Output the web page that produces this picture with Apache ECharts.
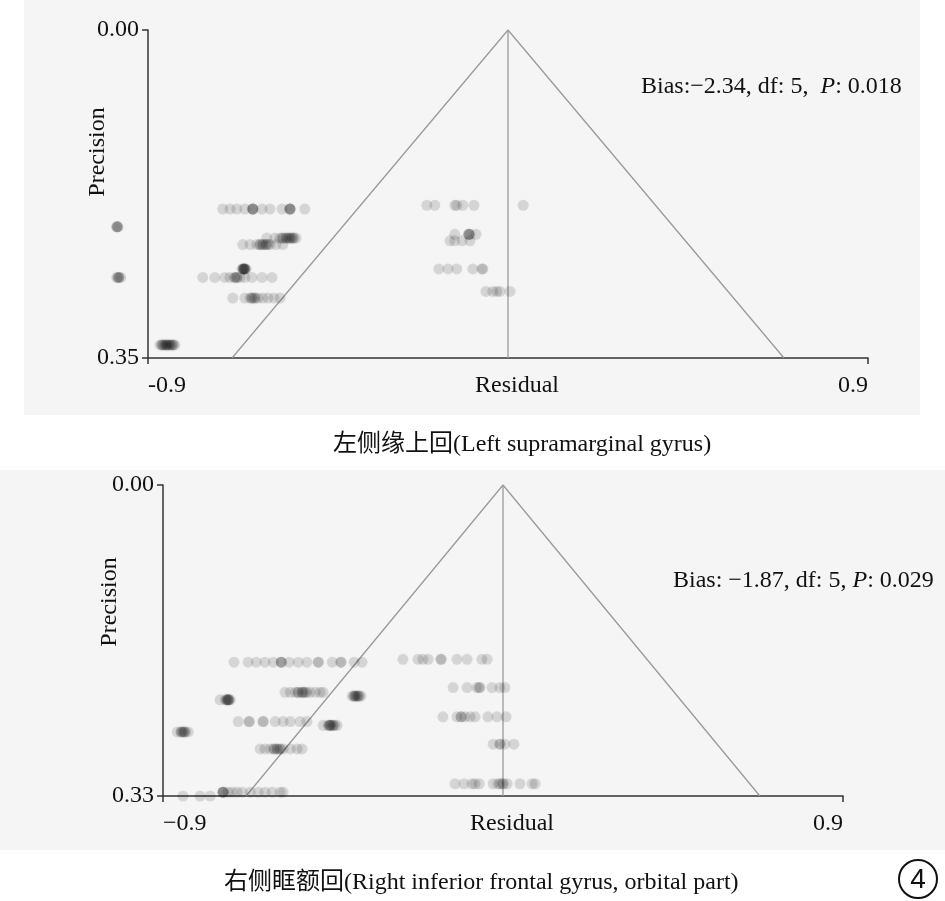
<!DOCTYPE html>
<html>
<head>
<meta charset="utf-8">
<script src="https://cdn.jsdelivr.net/npm/echarts@6/dist/echarts.min.js"></script>
<style>
  html, body { margin: 0; padding: 0; background: #fff; }
  #chart { width: 945px; height: 901px; }
</style>
</head>
<body>
<div id="chart"></div>
<script>
var FONT = '"Liberation Serif", "Times New Roman", "Noto Sans CJK SC", serif';
var FS = 24;

// panel 1: left supramarginal gyrus
var topPrecision = [0.191, 0.210, 0.264, 0.222, 0.229, 0.255, 0.264, 0.286, 0.336,
  0.187, 0.218, 0.225, 0.255, 0.279];
var topResidual = [
  [-0.713, -0.695, -0.678, -0.658, -0.638, -0.638, -0.638, -0.638, -0.615, -0.595, -0.565, -0.545, -0.545, -0.545, -0.545, -0.508],
  [-0.978, -0.978, -0.975, -0.976],
  [-0.978, -0.973, -0.968, -0.973, -0.975],
  [-0.603, -0.583, -0.570, -0.563, -0.563, -0.555, -0.555, -0.550, -0.545, -0.545, -0.540, -0.538, -0.535, -0.530],
  [-0.663, -0.645, -0.628, -0.620, -0.620, -0.613, -0.613, -0.605, -0.605, -0.600, -0.595, -0.580, -0.563],
  [-0.665, -0.662, -0.660, -0.660, -0.658, -0.655, -0.660, -0.662, -0.657],
  [-0.763, -0.733, -0.708, -0.695, -0.683, -0.683, -0.678, -0.678, -0.670, -0.658, -0.640, -0.615, -0.590],
  [-0.688, -0.658, -0.645, -0.640, -0.640, -0.633, -0.633, -0.625, -0.613, -0.600, -0.585, -0.570],
  [-0.870, -0.866, -0.863, -0.863, -0.858, -0.855, -0.855, -0.852, -0.848, -0.848, -0.844, -0.840, -0.840, -0.836, -0.833],
  [-0.203, -0.183, -0.133, -0.128, -0.113, -0.085, 0.038],
  [-0.133, -0.098, -0.098, -0.098, -0.095, -0.080],
  [-0.145, -0.133, -0.115, -0.095],
  [-0.173, -0.150, -0.128, -0.088, -0.065, -0.063],
  [-0.055, -0.038, -0.028, -0.020, 0.005]
];

// panel 2: right inferior frontal gyrus, orbital part
var botPrecision = [0.188, 0.185, 0.220, 0.224, 0.228, 0.215, 0.251, 0.255, 0.262,
  0.246, 0.280, 0.275, 0.326, 0.330, 0.317];
var botResidual = [
  [-0.712, -0.675, -0.653, -0.630, -0.608, -0.587, -0.587, -0.587, -0.566, -0.542, -0.519, -0.489, -0.489, -0.452, -0.429, -0.429, -0.394, -0.373],
  [-0.265, -0.225, -0.212, -0.198, -0.164, -0.164, -0.122, -0.095, -0.056, -0.042],
  [-0.577, -0.563, -0.550, -0.542, -0.542, -0.532, -0.532, -0.528, -0.524, -0.520, -0.511, -0.497, -0.484, -0.476],
  [-0.399, -0.395, -0.392, -0.392, -0.388, -0.384, -0.384, -0.380, -0.376],
  [-0.749, -0.735, -0.732, -0.728, -0.728, -0.725, -0.722, -0.730, -0.726],
  [-0.132, -0.095, -0.069, -0.063, -0.061, -0.029, -0.008, 0.005],
  [-0.701, -0.672, -0.672, -0.635, -0.635, -0.603, -0.582, -0.563, -0.537, -0.519],
  [-0.476, -0.463, -0.460, -0.458, -0.458, -0.455, -0.450, -0.450, -0.445, -0.439],
  [-0.862, -0.852, -0.852, -0.848, -0.844, -0.844, -0.840, -0.833],
  [-0.159, -0.122, -0.111, -0.111, -0.101, -0.087, -0.074, -0.040, -0.016, 0.008],
  [-0.643, -0.630, -0.616, -0.606, -0.606, -0.598, -0.598, -0.590, -0.590, -0.582, -0.563, -0.545, -0.532],
  [-0.026, -0.008, -0.008, 0.005, 0.029],
  [-0.741, -0.741, -0.741, -0.741, -0.728, -0.717, -0.704, -0.690, -0.669, -0.648, -0.630, -0.611, -0.590, -0.582],
  [-0.847, -0.802, -0.775],
  [-0.127, -0.103, -0.082, -0.074, -0.063, -0.026, -0.013, -0.008, 0.000, 0.000, 0.011, 0.045, 0.077, 0.085]
];

// funnel limits at the bottom of each panel
var topFunnel = { maxPrec: 0.35, halfWidth: 0.69 };
var botFunnel = { maxPrec: 0.33, halfWidth: 0.68 };

function toPoints(precision, residual) {
  var pts = [];
  precision.forEach(function(p, i) {
    residual[i].forEach(function(r) {
      pts.push([r, p]);
    });
  });
  return pts;
}

function makeAxes(idx, f, minusSign) {
  var xAxis = {
    gridIndex: idx, type: 'value', min: -0.9, max: 0.9, interval: 0.9,
    name: 'Residual', nameLocation: 'middle', nameGap: 16, nameMoveOverlap: false,
    nameTextStyle: { fontFamily: FONT, fontSize: FS, color: '#111', verticalAlign: 'top', padding: [0, 0, 0, 18] },
    axisLine: { show: true, onZero: false, lineStyle: { color: '#333', width: 1.5 } },
    axisTick: { show: true, customValues: [-0.9, 0.9], length: 6, lineStyle: { color: '#333', width: 1.5 } },
    axisLabel: {
      customValues: [-0.9, 0.9], margin: 16, fontFamily: FONT, fontSize: FS, color: '#111',
      alignMinLabel: 'left', alignMaxLabel: 'right',
      formatter: function(v) { return v < 0 ? minusSign + '0.9' : '0.9'; }
    },
    splitLine: { show: false }
  };
  var yAxis = {
    gridIndex: idx, type: 'value', inverse: true, min: 0, max: f.maxPrec, interval: f.maxPrec,
    axisLine: { show: true, onZero: false, lineStyle: { color: '#333', width: 1.5 } },
    axisTick: { show: true, length: 6, lineStyle: { color: '#333', width: 1.5 } },
    axisLabel: { margin: 9, fontFamily: FONT, fontSize: FS, color: '#111',
      formatter: function(v) { return v.toFixed(2); } },
    splitLine: { show: false }
  };
  return { x: xAxis, y: yAxis };
}

function makeSeries(idx, f, points) {
  var lineStyle = { color: '#9a9a9a', width: 1.3 };
  return [
    {
      type: 'line', xAxisIndex: idx, yAxisIndex: idx, symbol: 'none', silent: true,
      lineStyle: lineStyle, z: 1,
      data: [[-f.halfWidth, f.maxPrec], [0, 0], [f.halfWidth, f.maxPrec]]
    },
    {
      type: 'line', xAxisIndex: idx, yAxisIndex: idx, symbol: 'none', silent: true,
      lineStyle: lineStyle, z: 1,
      data: [[0, 0], [0, f.maxPrec]]
    },
    {
      type: 'scatter', xAxisIndex: idx, yAxisIndex: idx, clip: false,
      symbolSize: 11, z: 3,
      itemStyle: { color: 'rgba(0,0,0,0.15)', shadowBlur: 4, shadowColor: 'rgba(0,0,0,0.15)' },
      data: points
    }
  ];
}

var chart = echarts.init(document.getElementById('chart'));
var a1 = makeAxes(0, topFunnel, '-');
var a2 = makeAxes(1, botFunnel, '\u2212');
var richItalic = { i: { fontFamily: FONT, fontSize: FS, fontStyle: 'italic', color: '#111' } };

var option = {
  backgroundColor: '#fff',
  animation: false,
  grid: [
    { left: 148, top: 30, width: 720, height: 328 },
    { left: 163, top: 485, width: 680, height: 311 }
  ],
  xAxis: [a1.x, a2.x],
  yAxis: [a1.y, a2.y],
  title: [
    {
      text: 'Bias:\u22122.34, df: 5,  {i|P}: 0.018', left: 636, top: 70,
      textStyle: { fontFamily: FONT, fontSize: FS, fontWeight: 'normal', color: '#111', rich: richItalic }
    },
    {
      text: 'Bias: \u22121.87, df: 5, {i|P}: 0.029', left: 668, top: 564,
      textStyle: { fontFamily: FONT, fontSize: FS, fontWeight: 'normal', color: '#111', rich: richItalic }
    },
    {
      text: '左侧缘上回(Left supramarginal gyrus)', left: 328, top: 428,
      textStyle: { fontFamily: FONT, fontSize: FS, fontWeight: 'normal', color: '#111' }
    },
    {
      text: '右侧眶额回(Right inferior frontal gyrus, orbital part)', left: 219, top: 866,
      textStyle: { fontFamily: FONT, fontSize: FS, fontWeight: 'normal', color: '#111' }
    }
  ],
  graphic: [
    { type: 'rect', z: -10, silent: true, shape: { x: 24, y: 0, width: 896, height: 415 },
      style: { fill: '#f5f5f5' } },
    { type: 'rect', z: -10, silent: true, shape: { x: 0, y: 470, width: 945, height: 380 },
      style: { fill: '#f5f5f5' } },
    { type: 'text', x: 98, y: 152, rotation: Math.PI / 2, silent: true,
      style: { text: 'Precision', fontFamily: FONT, fontSize: FS, fill: '#111',
        textAlign: 'center', textVerticalAlign: 'middle' } },
    { type: 'text', x: 110, y: 602, rotation: Math.PI / 2, silent: true,
      style: { text: 'Precision', fontFamily: FONT, fontSize: FS, fill: '#111',
        textAlign: 'center', textVerticalAlign: 'middle' } },
    { type: 'circle', silent: true, shape: { cx: 918, cy: 879, r: 19 },
      style: { fill: 'none', stroke: '#111', lineWidth: 2 } },
    { type: 'text', x: 918, y: 880, silent: true,
      style: { text: '4', fontFamily: '"Liberation Sans", Arial, sans-serif', fontSize: 28, fill: '#111',
        textAlign: 'center', textVerticalAlign: 'middle' } }
  ],
  series: makeSeries(0, topFunnel, toPoints(topPrecision, topResidual))
    .concat(makeSeries(1, botFunnel, toPoints(botPrecision, botResidual)))
};

chart.setOption(option);
</script>
</body>
</html>
